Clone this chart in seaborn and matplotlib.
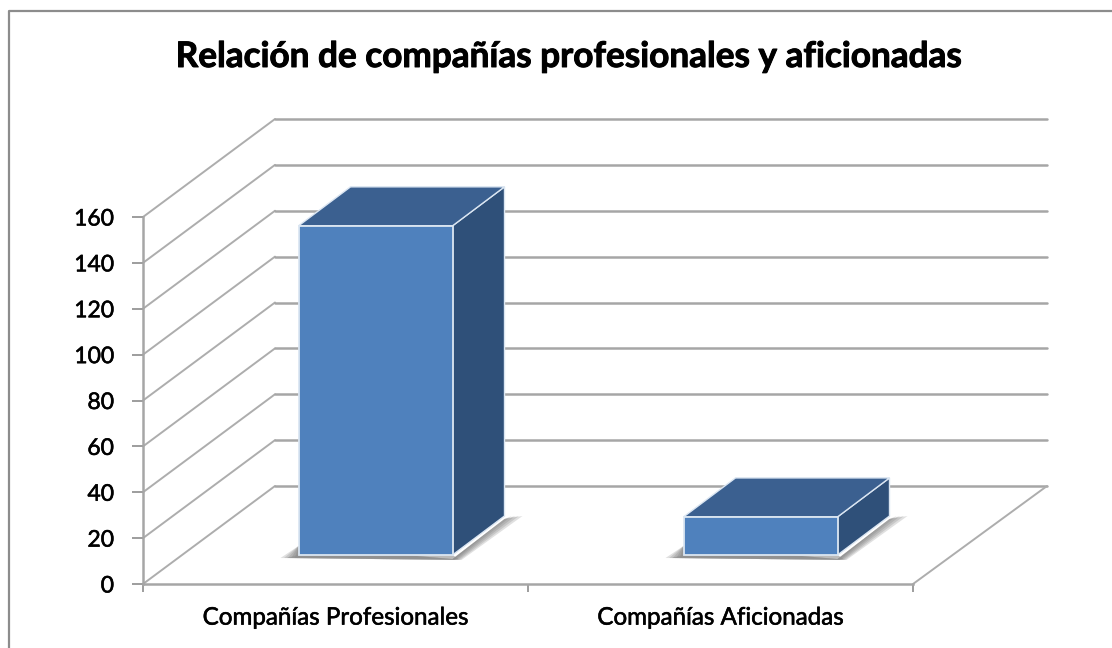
import matplotlib
matplotlib.use("Agg")
import matplotlib.pyplot as plt
import numpy as np
import seaborn as sns
from matplotlib.lines import Line2D
from matplotlib.patches import Polygon
from matplotlib.transforms import Affine2D
import matplotlib.patheffects as pe

categorias = ["Compañías Profesionales", "Compañías Aficionadas"]
valores = [143.5, 16.6]
y_ticks = [0, 20, 40, 60, 80, 100, 120, 140, 160]
titulo = "Relación de compañías profesionales y aficionadas"

W, H = 1112, 648
sns.set_theme(style="white")
plt.rcParams["font.family"] = ["Lato", "DejaVu Sans"]

# colours
frente = "#4f81bd"
arriba = "#3b6090"
lado = "#2f5079"
gris = "#a6a6a6"

fig = plt.figure(figsize=(W / 100, H / 100), dpi=100, facecolor="white")
ax = fig.add_axes([143 / W, 1 - 584 / H, 770 / W, 367 / H])
ax.patch.set_alpha(0)

sns.barplot(x=categorias, y=valores, color=frente, width=0.4, saturation=1, ax=ax)
ax.set_xlim(-0.5, 1.5)
ax.set_ylim(0, 160)
ax.set_yticks(y_ticks)
fig.canvas.draw()

# pixel offsets for the fake 3D
fondo = (132, 98)      # depth of the walls
avance = (40, 29)      # bar front from the front plane
prof = (52, 39)        # depth of a bar
atras = ax.transData + Affine2D().translate(*fondo)

# walls and floor
for v in y_ticks:
    p0 = ax.transData.transform((-0.5, v))
    p1 = p0 + fondo
    p2 = atras.transform((1.5, v))
    ax.plot([p0[0], p1[0]], [p0[1], p1[1]], color="#adadad", lw=1.4, transform=None, clip_on=False, zorder=0.5)
    ax.plot([p1[0], p2[0] + 2], [p1[1], p2[1]], color=gris, lw=1.8, transform=None, clip_on=False, zorder=0.5)
q0 = ax.transData.transform((1.5, 0))
ax.plot([q0[0], q0[0] + fondo[0] + 2], [q0[1], q0[1] + fondo[1]], color="#adadad", lw=1.4, transform=None, clip_on=False, zorder=0.5)

# bars: shift the fronts and build top and side from them
mover = ax.transData + Affine2D().translate(*avance)
for bar in list(ax.patches):
    bar.set_transform(mover)
    bar.set_clip_on(False)
    bar.set_zorder(3)
    bar.set_edgecolor("#dbe6f2")
    bar.set_linewidth(1.3)
    x0, x1 = bar.get_x(), bar.get_x() + bar.get_width()
    a = mover.transform((x0, 0))
    b = mover.transform((x1, 0))
    c = mover.transform((x1, bar.get_height()))
    d = mover.transform((x0, bar.get_height()))
    # soft floor shadow, darker towards the bar
    for k in [1.0, 0.8, 0.6, 0.4, 0.2]:
        sombra = [a + (-18 * k, -3), a + (0, 9), b + (0, -4), b + prof + (0, -3),
                  b + prof + (18 * k, 0), b + (9 * k, -5)]
        ax.add_patch(Polygon(sombra, closed=True, fc="#666666", ec="none", alpha=0.2,
                             transform=None, clip_on=False, zorder=1))
    ax.add_patch(Polygon([a + (-12, -3), b + (6, -4), b + (0, 0), a], closed=True, fc="#8f8f8f", ec="none", alpha=0.6,
                         transform=None, clip_on=False, zorder=1))
    ax.add_patch(Polygon([b, c, c + prof, b + prof], closed=True, fc=lado, ec="#dbe6f2", lw=1.0,
                         transform=None, clip_on=False, zorder=2))
    ax.add_patch(Polygon([d, c, c + prof, d + prof], closed=True, fc=arriba, ec="#dbe6f2", lw=1.0,
                         transform=None, clip_on=False, zorder=2))

sns.despine(ax=ax, top=True, right=True)
for s in ["left", "bottom"]:
    ax.spines[s].set_color(gris)
    ax.spines[s].set_linewidth(1.8)

ax.set_xticks([-0.5, 0.5, 1.5], minor=True)
ax.tick_params(axis="x", which="minor", bottom=True, length=6, width=1.2, color="#8c8c8c")
ax.tick_params(axis="x", which="major", bottom=False, pad=11, labelsize=17.4, labelcolor="black")
ax.tick_params(axis="y", left=True, length=8, width=1.2, color="#8c8c8c", pad=13, labelsize=16.5, labelcolor="black")
for t in ax.get_xticklabels() + ax.get_yticklabels():
    t.set_path_effects([pe.withStroke(linewidth=0.4, foreground="black")])

fig.text(568 / W, 1 - 57 / H, titulo, ha="center", va="center", fontsize=25.3, fontweight="bold", color="black",
         path_effects=[pe.withStroke(linewidth=0.7, foreground="black")])

# only the left and top of the chart frame are inside the picture
fig.add_artist(Line2D([8.5 / W, 8.5 / W, 1], [0, 1 - 11 / H, 1 - 11 / H], transform=fig.transFigure, color="#8c8c8c", lw=1.6))

fig.savefig("out.png", dpi=100)
